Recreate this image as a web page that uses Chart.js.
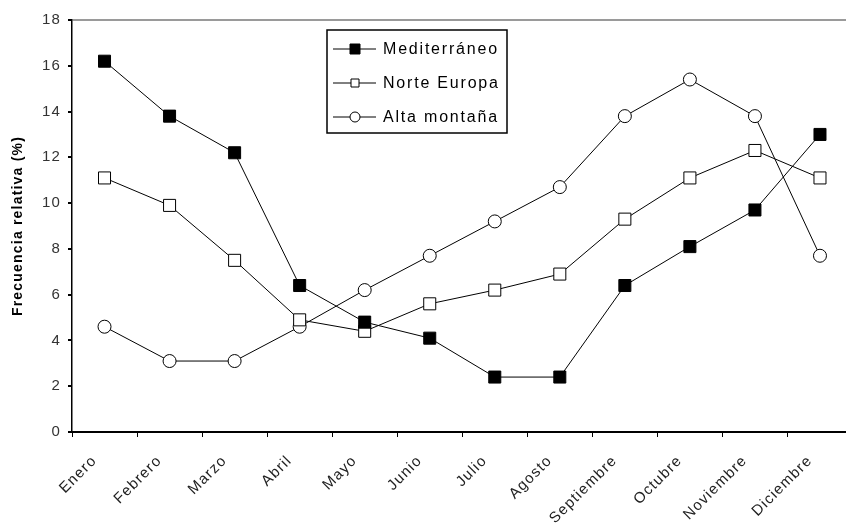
<!DOCTYPE html>
<html>
<head>
<meta charset="utf-8">
<script src="https://cdn.jsdelivr.net/npm/chart.js@4.4.1/dist/chart.umd.min.js"></script>
<style>
  html, body { margin: 0; padding: 0; background: #fff; overflow: hidden; }
  #wrap { width: 862px; height: 529px; }
</style>
</head>
<body>
<div id="wrap"><canvas id="freqChart" width="862" height="529"></canvas></div>
<script>
const months = ['Enero', 'Febrero', 'Marzo', 'Abril', 'Mayo', 'Junio', 'Julio', 'Agosto', 'Septiembre', 'Octubre', 'Noviembre', 'Diciembre'];
const mediterraneo = [16.2, 13.8, 12.2, 6.4, 4.8, 4.1, 2.4, 2.4, 6.4, 8.1, 9.7, 13.0];
const norteEuropa = [11.1, 9.9, 7.5, 4.9, 4.4, 5.6, 6.2, 6.9, 9.3, 11.1, 12.3, 11.1];
const altaMontana = [4.6, 3.1, 3.1, 4.6, 6.2, 7.7, 9.2, 10.7, 13.8, 15.4, 13.8, 7.7];
const yMin = 0, yMax = 18, yStep = 2;
const seriesNames = ['Mediterráneo', 'Norte Europa', 'Alta montaña'];

// the old picture has wide-spaced text, so spread the letters a bit
const spacing = {
    id: 'spacing',
    beforeUpdate(chart) { chart.ctx.letterSpacing = '1.2px'; },
    beforeDraw(chart) { chart.ctx.letterSpacing = '1.2px'; }
};

// legend box drawn inside the plot, like the original spreadsheet chart
const boxLegend = {
    id: 'boxLegend',
    afterDraw(chart) {
        const ctx = chart.ctx;
        const x = 327, y = 30, w = 180, h = 103;
        ctx.save();
        ctx.fillStyle = '#fff';
        ctx.fillRect(x, y, w, h);
        ctx.strokeStyle = '#000';
        ctx.lineWidth = 1.5;
        ctx.strokeRect(x, y, w, h);
        ctx.font = '16px "Liberation Sans", Arial, sans-serif';
        ctx.letterSpacing = '1.8px';
        ctx.textBaseline = 'middle';
        ctx.fillStyle = '#000';
        chart.data.datasets.forEach((ds, i) => {
            const cy = y + 19 + i * 34;
            ctx.beginPath();
            ctx.lineWidth = 1;
            ctx.moveTo(x + 6, cy);
            ctx.lineTo(x + 49, cy);
            ctx.stroke();
            ctx.fillStyle = ds.pointBackgroundColor;
            ctx.beginPath();
            if (ds.pointStyle === 'circle') {
                ctx.arc(x + 28, cy, 5, 0, Math.PI * 2);
            } else {
                const s = i === 0 ? 10 : 8;
                ctx.rect(x + 28 - s / 2, cy - s / 2, s, s);
            }
            ctx.fill();
            ctx.stroke();
            ctx.fillStyle = '#000';
            ctx.fillText(ds.label, x + 56, cy + 1);
        });
        ctx.restore();
    }
};

const ctx = document.getElementById('freqChart').getContext('2d');
const freqChart = new Chart(ctx, {
    type: 'line',
    data: {
        labels: months,
        datasets: [
            {
                label: seriesNames[0],
                data: mediterraneo,
                borderColor: '#000',
                borderWidth: 1,
                pointStyle: 'rect',
                pointRadius: 8.5,
                pointBackgroundColor: '#000',
                pointBorderColor: '#000',
                pointBorderWidth: 1,
                tension: 0
            },
            {
                label: seriesNames[1],
                data: norteEuropa,
                borderColor: '#000',
                borderWidth: 1,
                pointStyle: 'rect',
                pointRadius: 8.5,
                pointBackgroundColor: '#fff',
                pointBorderColor: '#000',
                pointBorderWidth: 1,
                tension: 0
            },
            {
                label: seriesNames[2],
                data: altaMontana,
                borderColor: '#000',
                borderWidth: 1,
                pointStyle: 'circle',
                pointRadius: 6.5,
                pointBackgroundColor: '#fff',
                pointBorderColor: '#000',
                pointBorderWidth: 1,
                tension: 0
            }
        ]
    },
    options: {
        responsive: false,
        animation: false,
        layout: {
            padding: { top: 20, left: 0, right: 0, bottom: 0 }
        },
        plugins: {
            legend: { display: false },
            tooltip: { enabled: false }
        },
        scales: {
            x: {
                offset: true,
                afterFit: function(scale) { scale.height = 97; },
                grid: {
                    offset: true,
                    drawOnChartArea: false,
                    tickLength: 5,
                    tickColor: '#000'
                },
                border: { color: '#000', width: 2 },
                ticks: {
                    autoSkip: false,
                    maxRotation: 45,
                    minRotation: 45,
                    padding: 15,
                    labelOffset: -10,
                    color: '#222',
                    font: { family: '"Liberation Sans", Arial, sans-serif', size: 15 }
                }
            },
            y: {
                min: yMin,
                max: yMax,
                afterFit: function(scale) { scale.width = 72; },
                grid: {
                    color: function(c) { return c.tick && c.tick.value === yMax ? '#9a9a9a' : 'rgba(0,0,0,0)'; },
                    lineWidth: 2,
                    tickLength: 4,
                    tickColor: '#000'
                },
                border: { color: '#000', width: 1.5 },
                title: {
                    display: true,
                    text: 'Frecuencia relativa (%)',
                    color: '#000',
                    padding: { top: 10, bottom: 0 },
                    font: { family: '"Liberation Sans", Arial, sans-serif', size: 14, weight: 'bold' }
                },
                ticks: {
                    stepSize: yStep,
                    padding: 7,
                    color: '#333',
                    font: { family: '"Liberation Sans", Arial, sans-serif', size: 15 }
                }
            }
        }
    },
    plugins: [spacing, boxLegend]
});
</script>
</body>
</html>
